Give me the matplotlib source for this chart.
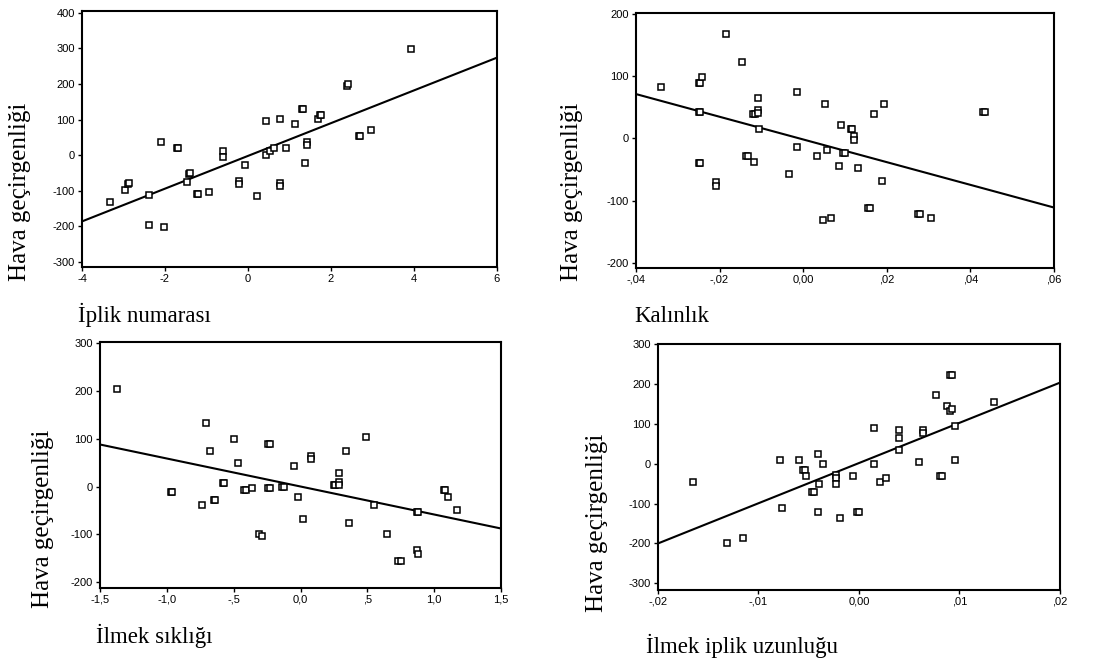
import matplotlib
matplotlib.use("Agg")
import matplotlib.pyplot as plt
import numpy as np
from matplotlib.ticker import FixedLocator, FixedFormatter

plt.rcParams.update({
    "font.family": ["Liberation Sans", "DejaVu Sans"],
    "axes.linewidth": 1.5,
    "xtick.direction": "out",
    "ytick.direction": "out",
    "xtick.major.size": 3,
    "ytick.major.size": 3,
    "xtick.major.width": 1.0,
    "ytick.major.width": 1.0,
    "xtick.labelsize": 8,
    "ytick.labelsize": 8,
})

YLABEL = "Hava geçirgenliği"

# Panel 1: İplik numarası
p1_x = [-3.33, -2.96, -2.88, -2.86, -2.39, -2.39, -2.02, -2.10, -1.70, -1.68, -1.42, -1.40,
        -1.47, -1.23, -1.21, -0.93, -0.59, -0.59, -0.22, -0.22, -0.07, 0.21, 0.43, 0.43,
        0.54, 0.62, 0.77, 0.77, 0.77, 0.91, 1.13, 1.30, 1.32, 1.37, 1.42, 1.42, 1.70,
        1.73, 1.75, 2.38, 2.40, 2.67, 2.69, 2.97, 3.92]
p1_y = [-132, -97, -80, -78, -112, -197, -202, 36, 19, 19, -52, -50,
        -75, -108, -108, -103, 12, -5, -72, -80, -27, -115, 95, 1,
        12, 19, 101, -78, -86, 19, 88, 130, 130, -22, 37, 30, 101,
        113, 113, 194, 199, 53, 53, 72, 297]
p1_fit = (-2.0, 46.0)
p1_xticks = [-4, -2, 0, 2, 4, 6]
p1_xlabels = ["-4", "-2", "0", "2", "4", "6"]
p1_yticks = [-300, -200, -100, 0, 100, 200, 300, 400]

# Panel 2: Kalınlık
p2_x = [-0.034, -0.0250, -0.0246, -0.0241, -0.0250, -0.0246, -0.0250, -0.0246, -0.0208,
        -0.0208, -0.0184, -0.0146, -0.0136, -0.0132, -0.0118, -0.0119, -0.0115, -0.0109,
        -0.0108, -0.0108, -0.0105, -0.0033, -0.0014, -0.0014, 0.0033, 0.0048, 0.0052,
        0.0057, 0.0066, 0.0085, 0.0090, 0.0095, 0.0099, 0.0114, 0.0118, 0.0122, 0.0122,
        0.0132, 0.0156, 0.0160, 0.0170, 0.0189, 0.0194, 0.0275, 0.0279, 0.0307, 0.0430, 0.0434]
p2_y = [82, 89, 89, 98, 42, 42, -40, -40, -70,
        -76, 167, 123, -28, -28, -38, 39, 39, 65,
        46, 40, 15, -58, 75, -14, -28, -131, 55,
        -18, -128, -45, 22, -24, -24, 15, 15, 3, -3,
        -48, -111, -111, 39, -68, 55, -121, -121, -128, 42, 42]
p2_fit = (-1.8, -1820.0)
p2_xticks = [-0.04, -0.02, 0.0, 0.02, 0.04, 0.06]
p2_xlabels = ["-,04", "-,02", "0,00", ",02", ",04", ",06"]
p2_yticks = [-200, -100, 0, 100, 200]

# Panel 3: İlmek sıklığı
p3_x = [-1.37, -0.97, -0.96, -0.74, -0.71, -0.68, -0.65, -0.64, -0.58, -0.57, -0.50,
        -0.47, -0.42, -0.41, -0.36, -0.31, -0.29, -0.24, -0.23, -0.24, -0.23, -0.14,
        -0.12, -0.05, -0.02, 0.02, 0.08, 0.08, 0.25, 0.26, 0.29, 0.29, 0.29, 0.34, 0.36,
        0.49, 0.55, 0.65, 0.73, 0.75, 0.87, 0.88, 0.87, 0.88, 1.07, 1.08, 1.10, 1.17]
p3_y = [203, -12, -12, -38, 132, 75, -29, -29, 7, 7, 100,
        50, -8, -8, -4, -100, -104, 88, 88, -4, -4, 0,
        0, 42, -21, -67, 63, 57, 4, 4, 10, 4, 29, 75, -76,
        104, -38, -100, -155, -155, -54, -54, -132, -140, -8, -8, -21, -50]
p3_fit = (0.0, -58.5)
p3_xticks = [-1.5, -1.0, -0.5, 0.0, 0.5, 1.0, 1.5]
p3_xlabels = ["-1,5", "-1,0", "-,5", "0,0", ",5", "1,0", "1,5"]
p3_yticks = [-200, -100, 0, 100, 200, 300]

# Panel 4: İlmek iplik uzunluğu
p4_x = [-0.01656, -0.01318, -0.01149, -0.0079, -0.0077, -0.0060, -0.0056, -0.0054,
        -0.0053, -0.0047, -0.0045, -0.0041, -0.0041, -0.0040, -0.0036, -0.0023, -0.0023,
        -0.0023, -0.0019, -0.0006, -0.0002, 0.0000, 0.0015, 0.0015, 0.0021, 0.0027,
        0.0040, 0.0040, 0.0040, 0.0060, 0.0064, 0.0064, 0.0077, 0.0081, 0.0083, 0.0088,
        0.0091, 0.0093, 0.0091, 0.0093, 0.0096, 0.0096, 0.0134]
p4_y = [-45, -200, -186, 10, -111, 10, -16, -16,
        -31, -71, -71, 25, -121, -50, 0, -28, -35,
        -50, -136, -31, -121, -121, 90, 0, -45, -36,
        85, 64, 35, 5, 85, 78, 174, -31, -31, 145,
        222, 222, 133, 139, 95, 10, 155]
p4_fit = (2.0, 10100.0)
p4_xticks = [-0.02, -0.01, 0.0, 0.01, 0.02]
p4_xlabels = ["-,02", "-,01", "0,00", ",01", ",02"]
p4_yticks = [-300, -200, -100, 0, 100, 200, 300]

panels = [
    dict(x=p1_x, y=p1_y, fit=p1_fit, xt=p1_xticks, xl=p1_xlabels, yt=p1_yticks,
         xlim=(-4, 6), ylim=(-314, 405), rect=[0.0741, 0.5979, 0.3752, 0.3855],
         xlabel="İplik numarası", xlpos=(78, 322), ylpos=(20, 192)),
    dict(x=p2_x, y=p2_y, fit=p2_fit, xt=p2_xticks, xl=p2_xlabels, yt=p2_yticks,
         xlim=(-0.04, 0.06), ylim=(-208, 201), rect=[0.5750, 0.5964, 0.3779, 0.3840],
         xlabel="Kalınlık", xlpos=(634, 322), ylpos=(572, 192)),
    dict(x=p3_x, y=p3_y, fit=p3_fit, xt=p3_xticks, xl=p3_xlabels, yt=p3_yticks,
         xlim=(-1.5, 1.5), ylim=(-212, 302), rect=[0.0904, 0.1145, 0.3626, 0.3705],
         xlabel="İlmek sıklığı", xlpos=(96, 643), ylpos=(43, 519)),
    dict(x=p4_x, y=p4_y, fit=p4_fit, xt=p4_xticks, xl=p4_xlabels, yt=p4_yticks,
         xlim=(-0.02, 0.02), ylim=(-317, 301), rect=[0.5949, 0.1114, 0.3635, 0.3705],
         xlabel="İlmek iplik uzunluğu", xlpos=(646, 653), ylpos=(597, 523)),
]

W, H = 1106, 664
fig = plt.figure(figsize=(W / 100, H / 100), dpi=100)
serif = ["Liberation Serif", "DejaVu Serif"]

for p in panels:
    ax = fig.add_axes(p["rect"])
    ax.plot(p["x"], p["y"], linestyle="none", marker="s", ms=3.9,
            mfc="white", mec="black", mew=1.1, zorder=3)
    b0, b1 = p["fit"]
    lx = np.array(p["xlim"])
    ax.plot(lx, b0 + b1 * lx, color="black", lw=1.5, zorder=2)
    ax.set_xlim(p["xlim"])
    ax.set_ylim(p["ylim"])
    ax.xaxis.set_major_locator(FixedLocator(p["xt"]))
    ax.xaxis.set_major_formatter(FixedFormatter(p["xl"]))
    ax.yaxis.set_major_locator(FixedLocator(p["yt"]))
    ax.set_yticklabels([str(v) for v in p["yt"]])
    ax.tick_params(pad=2)
    fig.text(p["xlpos"][0] / W, 1 - p["xlpos"][1] / H, p["xlabel"], family=serif,
             fontsize=16.5, ha="left", va="baseline")
    fig.text(p["ylpos"][0] / W, 1 - p["ylpos"][1] / H, YLABEL, family=serif,
             fontsize=18, rotation=90, ha="center", va="center")

fig.savefig("out.png", dpi=100, facecolor="white")
